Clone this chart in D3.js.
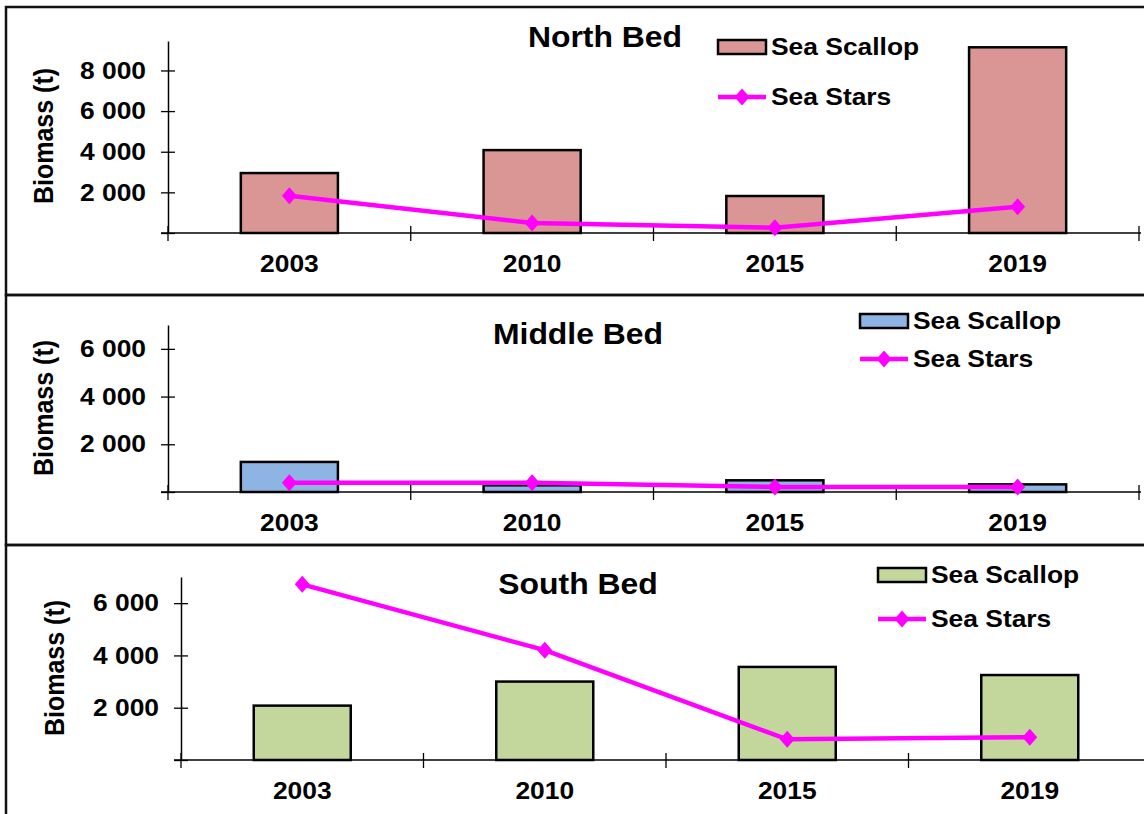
<!DOCTYPE html>
<html lang="en">
<head>
<meta charset="UTF-8">
<title>Sea Scallop and Sea Stars biomass by bed</title>
<script src="https://d3js.org/d3.v7.min.js"></script>
<style>
  body { margin: 0; background: #fff; }
  svg { display: block; font-family: "Liberation Sans", Arial, sans-serif; font-weight: bold; }
</style>
</head>
<body>
<svg width="1144" height="814"></svg>
<script>
// data
const years = ["2003", "2010", "2015", "2019"];
const seriesNames = ["Sea Scallop", "Sea Stars"];
const bedNames = ["North Bed", "Middle Bed", "South Bed"];

const northScallop = [2950, 4080, 1820, 9140];
const northStars = [1830, 490, 260, 1290];
const middleScallop = [1260, 280, 490, 320];
const middleStars = [390, 385, 210, 210];
const southScallop = [2080, 3000, 3560, 3250];
const southStars = [6720, 4200, 790, 870];

const northTicks = [0, 2000, 4000, 6000, 8000];
const middleTicks = [0, 2000, 4000, 6000];
const southTicks = [0, 2000, 4000, 6000];

const yTitle = "Biomass (t)";

// text in the original is a bit wider than Arial, stretch it sideways
const SX = 1.1;
const starColor = "#ff00ff";

const fmt = d3.formatLocale({decimal: ".", thousands: " ", grouping: [3], currency: ["", ""]}).format(",");

// layout for each panel
const panels = [
  {title: bedNames[0], scallop: northScallop, stars: northStars, ticks: northTicks, yMax: 9450,
   color: "#d99694", top: 7, bottom: 295, x0: 168, x1: 1139, yBottom: 233, yTop: 41,
   titleX: 605, titleY: 47, legX: 718, legY: 40, legGap: 50, labX: 44, labY: 136},
  {title: bedNames[1], scallop: middleScallop, stars: middleStars, ticks: middleTicks, yMax: 7000,
   color: "#8eb4e3", top: 295, bottom: 545, x0: 168, x1: 1139, yBottom: 492, yTop: 325,
   titleX: 578, titleY: 344, legX: 860, legY: 314, legGap: 38, labX: 44, labY: 408},
  {title: bedNames[2], scallop: southScallop, stars: southStars, ticks: southTicks, yMax: 7000,
   color: "#c3d69b", top: 545, bottom: 840, x0: 181, x1: 1151, yBottom: 760, yTop: 577,
   titleX: 578, titleY: 594, legX: 878, legY: 568, legGap: 44, labX: 55, labY: 668}
];

const svg = d3.select("svg");

function diamond(w, h) {
  return `M0,${-h}L${w},0L0,${h}L${-w},0Z`;
}

function label(g, x, y, str, size, anchor) {
  return g.append("text")
    .attr("transform", `translate(${x},${y}) scale(${SX},1)`)
    .attr("text-anchor", anchor)
    .attr("font-size", size)
    .attr("fill", "#000")
    .text(str);
}

panels.forEach(p => {
  const g = svg.append("g");

  g.append("rect")
    .attr("x", 6).attr("y", p.top)
    .attr("width", 1160).attr("height", p.bottom - p.top)
    .attr("fill", "none").attr("stroke", "#111").attr("stroke-width", 2.5);

  const x = d3.scaleBand().domain(years).range([p.x0, p.x1]).paddingInner(0.6).paddingOuter(0.3);
  const y = d3.scaleLinear().domain([0, p.yMax]).range([p.yBottom, p.yTop]);

  // bars
  g.selectAll("rect.bar")
    .data(p.scallop)
    .join("rect")
    .attr("class", "bar")
    .attr("x", (d, i) => x(years[i]))
    .attr("y", d => y(d))
    .attr("width", x.bandwidth())
    .attr("height", d => y(0) - y(d))
    .attr("fill", p.color)
    .attr("stroke", "#000")
    .attr("stroke-width", 2.5);

  // x axis
  const xa = g.append("g")
    .attr("transform", `translate(0,${p.yBottom})`)
    .call(d3.axisBottom(x).tickSize(0).tickPadding(22));
  xa.attr("font-size", 24).attr("font-family", null);
  xa.select(".domain").attr("d", `M${p.x0 - 7},0H${p.x1 + 2}`).attr("stroke-width", 1.5);
  xa.selectAll(".tick text").attr("transform", `scale(${SX},1)`);
  xa.selectAll("line.cross")
    .data(d3.range(years.length + 1))
    .join("line")
    .attr("class", "cross")
    .attr("x1", i => p.x0 + i * x.step())
    .attr("x2", i => p.x0 + i * x.step())
    .attr("y1", -7).attr("y2", 8)
    .attr("stroke", "#000").attr("stroke-width", 1.3);

  // y axis
  const ya = g.append("g")
    .attr("transform", `translate(${p.x0},0)`)
    .call(d3.axisLeft(y).tickValues(p.ticks).tickSize(0).tickPadding(0)
      .tickFormat(d => d ? fmt(d) : ""));
  ya.attr("font-size", 24).attr("font-family", null);
  ya.select(".domain").attr("stroke-width", 1.5);
  ya.selectAll(".tick line").attr("x1", -7).attr("x2", 7).attr("stroke-width", 1.3);
  ya.selectAll(".tick text").attr("x", -20).attr("transform", `scale(${SX},1)`);

  // sea stars line
  const line = d3.line()
    .x((d, i) => x(years[i]) + x.bandwidth() / 2)
    .y(d => y(d));
  g.append("path")
    .datum(p.stars)
    .attr("d", line)
    .attr("fill", "none")
    .attr("stroke", starColor)
    .attr("stroke-width", 4.5);
  g.selectAll("path.mark")
    .data(p.stars)
    .join("path")
    .attr("class", "mark")
    .attr("transform", (d, i) => `translate(${x(years[i]) + x.bandwidth() / 2},${y(d)})`)
    .attr("d", diamond(7.5, 8.5))
    .attr("fill", starColor);

  // title and y label
  label(g, p.titleX, p.titleY, p.title, 29, "middle");
  g.append("text")
    .attr("transform", `translate(${p.labX},${p.labY}) scale(${SX},1) rotate(-90)`)
    .attr("text-anchor", "middle")
    .attr("dominant-baseline", "central")
    .attr("font-size", 25)
    .text(yTitle);

  // legend
  const sw = 48, sh = 14;
  g.append("rect")
    .attr("x", p.legX).attr("y", p.legY)
    .attr("width", sw).attr("height", sh)
    .attr("fill", p.color).attr("stroke", "#000").attr("stroke-width", 2.5);
  label(g, p.legX + sw + 5, p.legY + sh + 1, seriesNames[0], 24, "start");
  const ly = p.legY + sh / 2 + p.legGap;
  g.append("line")
    .attr("x1", p.legX).attr("x2", p.legX + sw)
    .attr("y1", ly).attr("y2", ly)
    .attr("stroke", starColor).attr("stroke-width", 4.5);
  g.append("path")
    .attr("transform", `translate(${p.legX + sw / 2},${ly})`)
    .attr("d", diamond(7.5, 8.5))
    .attr("fill", starColor);
  label(g, p.legX + sw + 5, ly + 8, seriesNames[1], 24, "start");
});
</script>
</body>
</html>
